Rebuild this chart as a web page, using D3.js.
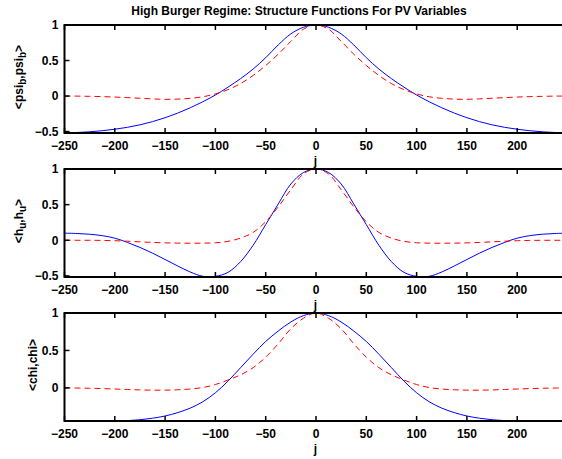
<!DOCTYPE html>
<html>
<head>
<meta charset="utf-8">
<script src="https://cdn.jsdelivr.net/npm/d3@7"></script>
<style>
  body { margin: 0; background: #fff; }
  text { font-family: "Liberation Sans", Arial, Helvetica, sans-serif; font-weight: bold; fill: #000; }
</style>
</head>
<body>
<svg id="fig" width="562" height="459"></svg>
<script>
// Lag values j shared by all three structure functions
const lags = [-250, -237.5, -225, -212.5, -200, -187.5, -175, -162.5, -150, -137.5, -125, -112.5, -100, -87.5, -75, -62.5, -50, -37.5, -25, -12.5,
              0, 12.5, 25, 37.5, 50, 62.5, 75, 87.5, 100, 112.5, 125, 137.5, 150, 162.5, 175, 187.5, 200, 212.5, 225, 237.5, 250];

// <psi_b,psi_b>
const psiSolid  = [-0.518, -0.513, -0.503, -0.488, -0.467, -0.44, -0.405, -0.36, -0.305, -0.24, -0.165, -0.08, 0.015, 0.125, 0.245, 0.38, 0.54, 0.72, 0.875, 0.968,
                   1.00, 0.968, 0.875, 0.72, 0.54, 0.38, 0.245, 0.125, 0.015, -0.08, -0.165, -0.24, -0.305, -0.36, -0.405, -0.44, -0.467, -0.488, -0.503, -0.513, -0.518];
const psiDashed = [0.00, -0.001, -0.004, -0.008, -0.014, -0.022, -0.031, -0.04, -0.046, -0.043, -0.032, -0.01, 0.03, 0.09, 0.175, 0.29, 0.43, 0.59, 0.77, 0.94,
                   1.00, 0.94, 0.77, 0.59, 0.43, 0.29, 0.175, 0.09, 0.03, -0.01, -0.032, -0.043, -0.046, -0.04, -0.031, -0.022, -0.014, -0.008, -0.004, -0.001, 0.00];

// <h_u,h_u>
const hSolid  = [0.10, 0.095, 0.085, 0.065, 0.03, -0.03, -0.10, -0.18, -0.27, -0.36, -0.445, -0.505, -0.505, -0.45, -0.30, -0.07, 0.22, 0.51, 0.79, 0.95,
                 1.00, 0.95, 0.79, 0.51, 0.22, -0.07, -0.30, -0.45, -0.505, -0.505, -0.445, -0.36, -0.27, -0.18, -0.10, -0.03, 0.03, 0.065, 0.085, 0.095, 0.10];
const hDashed = [0.00, 0.00, 0.00, -0.002, -0.006, -0.013, -0.022, -0.03, -0.036, -0.04, -0.041, -0.04, -0.035, -0.015, 0.03, 0.11, 0.26, 0.47, 0.71, 0.93,
                 1.00, 0.93, 0.71, 0.47, 0.26, 0.11, 0.03, -0.015, -0.035, -0.04, -0.041, -0.04, -0.036, -0.03, -0.022, -0.013, -0.006, -0.002, 0.00, 0.00, 0.00];

// <chi,chi>
const chiSolid  = [-0.442, -0.442, -0.442, -0.442, -0.442, -0.437, -0.425, -0.405, -0.375, -0.33, -0.27, -0.185, -0.065, 0.09, 0.27, 0.45, 0.62, 0.76, 0.88, 0.965,
                   1.00, 0.965, 0.88, 0.76, 0.62, 0.45, 0.27, 0.09, -0.065, -0.185, -0.27, -0.33, -0.375, -0.405, -0.425, -0.437, -0.442, -0.442, -0.442, -0.442, -0.442];
const chiDashed = [0.00, -0.002, -0.005, -0.009, -0.015, -0.021, -0.027, -0.03, -0.03, -0.025, -0.015, 0.005, 0.045, 0.105, 0.175, 0.27, 0.41, 0.59, 0.79, 0.93,
                   1.00, 0.93, 0.79, 0.59, 0.41, 0.27, 0.175, 0.105, 0.045, 0.005, -0.015, -0.025, -0.03, -0.03, -0.027, -0.021, -0.015, -0.009, -0.005, -0.002, 0.00];

const xTicks = [-250, -200, -150, -100, -50, 0, 50, 100, 150, 200];
const yTicksFull = [-0.5, 0, 0.5, 1];
const yTicksUpper = [0, 0.5, 1];

const titleText = "High Burger Regime: Structure Functions For PV Variables";
const xLabelText = "j";

const panels = [
  { solid: psiSolid, dashed: psiDashed, ylim: [-0.52, 1],  yTicks: yTicksFull,  label: ["<psi", "b", ",psi", "b", ">"], top: 25,  labelX: 23 },
  { solid: hSolid,   dashed: hDashed,   ylim: [-0.515, 1], yTicks: yTicksFull,  label: ["<h", "u", ",h", "u", ">"],       top: 169, labelX: 23 },
  { solid: chiSolid, dashed: chiDashed, ylim: [-0.442, 1], yTicks: yTicksUpper, label: ["<chi,chi>"],                    top: 313, labelX: 37 }
];

const svg = d3.select("#fig");
const left = 64.5, right = 566.5, plotH = 108;

const x = d3.scaleLinear().domain([-250, 249]).range([left, right]);
const fmt = v => (v < 0 ? "\u2212" : "") + String(Math.abs(v));

svg.append("text")
  .attr("x", 299).attr("y", 15)
  .attr("text-anchor", "middle").style("font-size", "12px")
  .text(titleText);

panels.forEach((p, i) => {
  const top = p.top, bottom = top + plotH;
  const y = d3.scaleLinear().domain(p.ylim).range([bottom, top]);
  const g = svg.append("g");

  // white axes background (covers the lower part of the previous panel's xlabel)
  g.append("rect").attr("x", left).attr("y", top).attr("width", right - left).attr("height", plotH).attr("fill", "#fff");

  const clipId = "clip" + i;
  g.append("clipPath").attr("id", clipId)
    .append("rect").attr("x", left).attr("y", top - 1).attr("width", right - left).attr("height", plotH + 2);

  const line = d3.line().x((d, k) => x(lags[k])).y(d => y(d)).curve(d3.curveCatmullRom.alpha(0.5));

  g.append("path").datum(p.solid).attr("d", line)
    .attr("fill", "none").attr("stroke", "#0000ff").attr("stroke-width", 1)
    .attr("clip-path", `url(#${clipId})`);
  g.append("path").datum(p.dashed).attr("d", line)
    .attr("fill", "none").attr("stroke", "#ff0000").attr("stroke-width", 1)
    .attr("stroke-dasharray", "6,4")
    .attr("clip-path", `url(#${clipId})`);

  // x ticks, inward on bottom and top
  xTicks.forEach(t => {
    g.append("line").attr("x1", x(t)).attr("x2", x(t)).attr("y1", bottom).attr("y2", bottom - 5)
      .attr("stroke", "#000").attr("stroke-width", 1.5);
    g.append("line").attr("x1", x(t)).attr("x2", x(t)).attr("y1", top).attr("y2", top + 5)
      .attr("stroke", "#000").attr("stroke-width", 1.5);
    g.append("text").attr("x", x(t)).attr("y", bottom + 16.5)
      .attr("text-anchor", "middle").style("font-size", "12px").text(fmt(t));
  });

  // y ticks
  p.yTicks.forEach(t => {
    g.append("line").attr("x1", left).attr("x2", left + 5).attr("y1", y(t)).attr("y2", y(t))
      .attr("stroke", "#000").attr("stroke-width", 1.5);
    g.append("text").attr("x", left - 6).attr("y", y(t)).attr("dy", "0.36em")
      .attr("text-anchor", "end").style("font-size", "12px").text(fmt(t));
  });

  // frame
  g.append("rect").attr("x", left).attr("y", top).attr("width", right - left).attr("height", plotH)
    .attr("fill", "none").attr("stroke", "#000").attr("stroke-width", 2);

  // x label
  g.append("text").attr("x", (left + right) / 2).attr("y", bottom + 32)
    .attr("text-anchor", "middle").style("font-size", "12px").text(xLabelText);

  // y label with subscripts
  const yl = g.append("text")
    .attr("transform", `translate(${p.labelX},${(top + bottom) / 2 - 2}) rotate(-90)`)
    .attr("text-anchor", "middle").style("font-size", "12px");
  p.label.forEach((part, k) => {
    const isSub = k % 2 === 1;
    yl.append("tspan")
      .style("font-size", isSub ? "10px" : "12px")
      .attr("dy", isSub ? 3 : (k > 0 ? -3 : 0))
      .text(part);
  });
});
</script>
</body>
</html>
